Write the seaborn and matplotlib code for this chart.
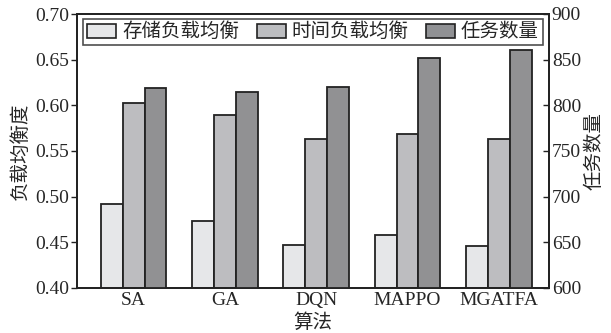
import matplotlib
matplotlib.use("Agg")
import matplotlib.pyplot as plt
import seaborn as sns
import pandas as pd
from matplotlib.patches import Patch

# Data
algorithms = ["SA", "GA", "DQN", "MAPPO", "MGATFA"]
storage_balance = [0.492, 0.473, 0.447, 0.458, 0.446]
time_balance = [0.603, 0.589, 0.563, 0.569, 0.563]
task_count = [819, 815, 820, 852, 861]
series_names = ["存储负载均衡", "时间负载均衡", "任务数量"]
left_ticks = [0.40, 0.45, 0.50, 0.55, 0.60, 0.65, 0.70]
right_ticks = [600, 650, 700, 750, 800, 850, 900]

colors = {"存储负载均衡": "#e6e7e9", "时间负载均衡": "#bcbdc0", "任务数量": "#909194"}
edge = "#222222"

sns.set_style("ticks")
plt.rcParams["font.family"] = ["Liberation Serif", "Noto Sans CJK SC"]
plt.rcParams["axes.unicode_minus"] = False

left_df = pd.DataFrame({
    "算法": algorithms * 2,
    "系列": [series_names[0]] * len(algorithms) + [series_names[1]] * len(algorithms),
    "值": storage_balance + time_balance,
})
right_df = pd.DataFrame({
    "算法": algorithms,
    "系列": [series_names[2]] * len(algorithms),
    "值": task_count,
})

fig = plt.figure(figsize=(6.11, 3.33), dpi=100)
ax = fig.add_axes([77 / 611, 1 - 288 / 333, (549 - 77) / 611, (288 - 14) / 333])
ax2 = ax.twinx()

sns.barplot(data=left_df, x="算法", y="值", hue="系列", hue_order=series_names,
            order=algorithms, palette=colors, width=0.72, gap=0, dodge=True,
            edgecolor=edge, linewidth=1.3, ax=ax, legend=False, zorder=2)
sns.barplot(data=right_df, x="算法", y="值", hue="系列", hue_order=series_names,
            order=algorithms, palette=colors, width=0.72, gap=0, dodge=True,
            edgecolor=edge, linewidth=1.3, ax=ax2, legend=False, zorder=2)

ax.set_xlim(-0.62, 4.55)
ax.set_ylim(0.40, 0.70)
ax2.set_ylim(600, 900)
ax.set_yticks(left_ticks)
ax.set_yticklabels([f"{v:.2f}" for v in left_ticks])
ax2.set_yticks(right_ticks)
ax2.set_yticklabels([str(v) for v in right_ticks])

ax.set_xlabel("算法", fontsize=14, labelpad=3)
ax.set_ylabel("负载均衡度", fontsize=14, labelpad=4)
ax2.set_ylabel("任务数量", fontsize=14, labelpad=3)

ax.tick_params(axis="y", direction="out", length=4, width=1.0, pad=1.5, labelsize=14, color="#222222")
ax.tick_params(axis="x", direction="in", length=5, width=1.0, pad=3, labelsize=14, color="#222222")
ax2.tick_params(axis="y", direction="in", length=4, width=1.0, pad=2, labelsize=14, color="#222222")

for a in (ax, ax2):
    for s in a.spines.values():
        s.set_visible(True)
        s.set_linewidth(1.3)
        s.set_color("#222222")

handles = [Patch(facecolor=colors[n], edgecolor=edge, linewidth=1.2, label=n) for n in series_names]
leg = ax2.legend(handles=handles, loc="upper center", ncol=3, fontsize=14,
                 frameon=True, fancybox=False, edgecolor="#222222",
                 handlelength=1.5, handleheight=0.75, handletextpad=0.3,
                 columnspacing=0.9, borderpad=0.2, borderaxespad=0.25)
leg.get_frame().set_linewidth(1.2)

fig.savefig("out.png", dpi=100)
